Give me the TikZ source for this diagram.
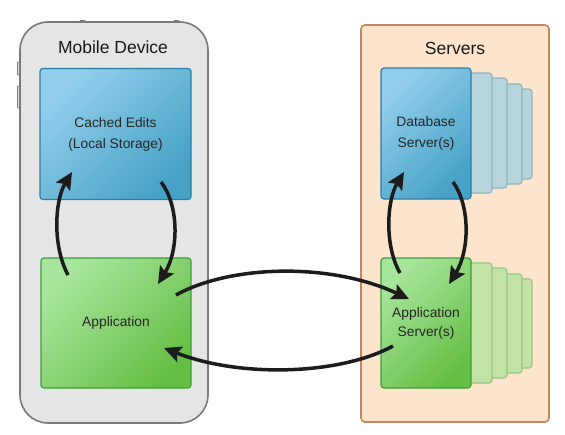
\documentclass[tikz,border=0pt]{standalone}
\usepackage{fontspec}
\setmainfont{Liberation Sans}
\usetikzlibrary{arrows.meta}
\definecolor{phonefill}{HTML}{E5E5E5}
\definecolor{phoneline}{HTML}{7A7A7A}
\definecolor{srvfill}{HTML}{FCE4CD}
\definecolor{srvline}{HTML}{C8855A}
\definecolor{bluelight}{HTML}{92CEEA}
\definecolor{bluedark}{HTML}{47A2C6}
\definecolor{blueline}{HTML}{2E7DA6}
\definecolor{greenlight}{HTML}{A8E59C}
\definecolor{greendark}{HTML}{66BF45}
\definecolor{greenline}{HTML}{3E9E3C}
\definecolor{bluelayer}{HTML}{B5D4DB}
\definecolor{bluelayerline}{HTML}{90B4BE}
\definecolor{greenlayer}{HTML}{C3E3A6}
\definecolor{greenlayerline}{HTML}{97C585}
\definecolor{arrowcol}{HTML}{1C1C1C}
\tikzset{
  container/.style={draw, line width=1.6pt, rounded corners=4pt, inner sep=0pt},
  bluebox/.style={draw=blueline, line width=1.2pt, rounded corners=3pt,
    top color=bluelight, bottom color=bluedark, shading angle=45,
    align=center, font=\fontsize{13.8}{21}\selectfont, text=black!85},
  greenbox/.style={draw=greenline, line width=1.2pt, rounded corners=3pt,
    top color=greenlight, bottom color=greendark, shading angle=45,
    align=center, font=\fontsize{13.8}{19}\selectfont, text=black!85},
  bluelay/.style={draw=bluelayerline, fill=bluelayer, line width=1.1pt, rounded corners=3pt},
  greenlay/.style={draw=greenlayerline, fill=greenlayer, line width=1.1pt, rounded corners=3pt},
  title/.style={font=\fontsize{17.5}{20}\selectfont, text=black!90},
  button/.style={draw=phoneline, fill=phonefill, line width=0.9pt, rounded corners=0.8pt},
  flow/.style={draw=arrowcol, line width=3.5pt,
    -{Stealth[length=17pt,width=16pt,inset=3pt]}},
}
\begin{document}
\begin{tikzpicture}[x=1pt,y=-1pt]
\useasboundingbox (0,0) rectangle (565,434);
% phone buttons
\draw[button] (17.5,62) rectangle (21,75);
\draw[button] (17.5,86) rectangle (21,108);
\draw[button] (80,20.5) rectangle (85,24);
\draw[button] (174,20.5) rectangle (179,24);
% containers
\node[container, draw=phoneline, fill=phonefill, rounded corners=28pt,
  minimum width=188pt, minimum height=401pt] (phone) at (114,222.5) {};
\node[container, draw=srvline, fill=srvfill, minimum width=188pt,
  minimum height=397pt] (servers) at (455,223.5) {};
\node[title] (phonetitle) at (113,47) {Mobile Device};
\node[title] (srvtitle) at (455,48) {Servers};
% mobile boxes
\node[bluebox, minimum width=151pt, minimum height=131pt] (cache) at (115.5,134)
  {Cached Edits\\(Local Storage)};
\node[greenbox, minimum width=150pt, minimum height=130pt] (app) at (116,323)
  {Application};
% database layers
\draw[bluelay] (450,89) rectangle (532,179);
\draw[bluelay] (450,84) rectangle (522,184);
\draw[bluelay] (450,78) rectangle (507,188);
\draw[bluelay] (450,73) rectangle (492,193);
\node[bluebox, minimum width=90pt, minimum height=131pt] (db) at (426,133.5)
  {Database\\Server(s)};
% app server layers
\draw[greenlay] (450,279) rectangle (532,368);
\draw[greenlay] (450,274) rectangle (522,373);
\draw[greenlay] (450,268) rectangle (507,378);
\draw[greenlay] (450,263) rectangle (492,383);
\node[greenbox, minimum width=90pt, minimum height=130pt] (appsrv) at (426,323)
  {Application\\Server(s)};
% connector end points
\coordinate (a1s) at (68,275);
\coordinate (a1e) at (72,172);
\coordinate (a2s) at (161,182);
\coordinate (a2e) at (158,284);
\coordinate (a3s) at (176,295);
\coordinate (a3e) at (409,299);
\coordinate (a4s) at (393,346);
\coordinate (a4e) at (164,348);
\coordinate (a5s) at (400,273);
\coordinate (a5e) at (404,172);
\coordinate (a6s) at (453,182);
\coordinate (a6e) at (449,284);
% arrows
\draw[flow] (a1s) .. controls (52,245) and (55,200) .. (a1e);
\draw[flow] (a2s) .. controls (179,205) and (179,250) .. (a2e);
\draw[flow] (a3s) .. controls (230,265) and (330,262) .. (a3e);
\draw[flow] (a4s) .. controls (340,375) and (240,378) .. (a4e);
\draw[flow] (a5s) .. controls (384,245) and (387,200) .. (a5e);
\draw[flow] (a6s) .. controls (470,205) and (470,250) .. (a6e);
\end{tikzpicture}
\end{document}
